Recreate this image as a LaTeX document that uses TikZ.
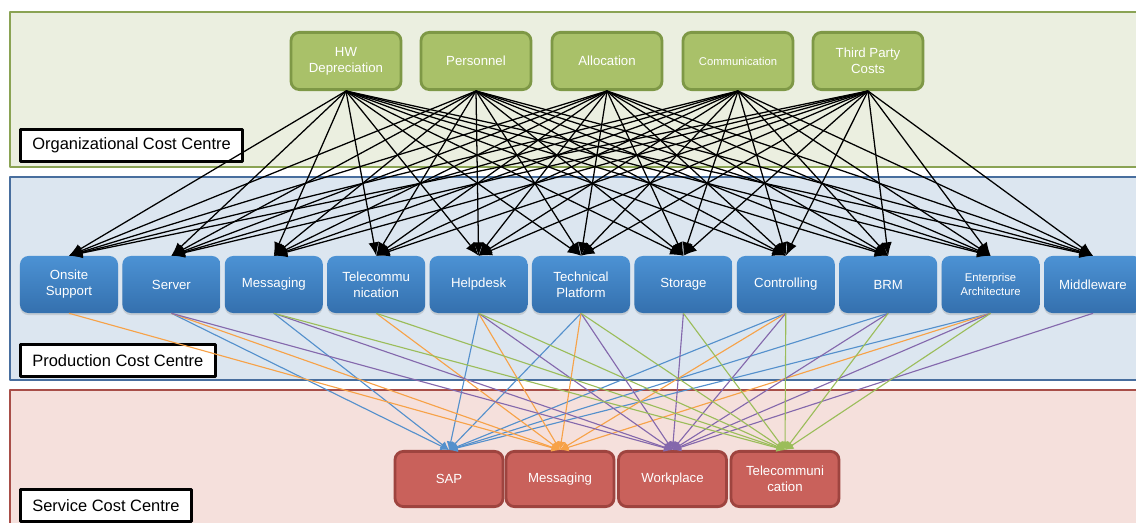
\documentclass[tikz,border=0pt]{standalone}
\usepackage{fontspec}
\setmainfont{Liberation Sans}
\usetikzlibrary{arrows.meta,shadows}
\definecolor{orgpanel}{RGB}{235,239,224}
\definecolor{orgline}{RGB}{138,163,84}
\definecolor{orgnode}{RGB}{169,193,105}
\definecolor{orgnodeline}{RGB}{126,152,70}
\definecolor{prodpanel}{RGB}{220,230,240}
\definecolor{prodline}{RGB}{72,110,158}
\definecolor{prodtop}{RGB}{76,146,212}
\definecolor{prodbot}{RGB}{52,112,174}
\definecolor{servpanel}{RGB}{245,224,220}
\definecolor{servline}{RGB}{168,78,72}
\definecolor{servnode}{RGB}{201,97,91}
\definecolor{servnodeline}{RGB}{158,68,63}
\definecolor{sapblue}{RGB}{84,144,204}
\definecolor{msgorange}{RGB}{247,162,72}
\definecolor{workpurple}{RGB}{132,104,172}
\definecolor{telgreen}{RGB}{155,189,90}
\begin{document}
\begin{tikzpicture}[x=0.025cm, y=-0.025cm, line join=round,
  panel/.style={line width=2pt},
  tag/.style={draw=black, fill=white, line width=2pt, inner xsep=8.5pt,
    minimum height=0.8cm, anchor=north west, font=\fontsize{11.7}{14}\selectfont},
  plain/.style={},
  smalltext/.style={font=\fontsize{8}{9.6}\selectfont},
  orgbox/.style={draw=orgnodeline, fill=orgnode, line width=2pt, rounded corners=6pt,
    minimum width=2.75cm, minimum height=1.43cm, align=center, text=white,
    font=\fontsize{9.4}{11.4}\selectfont},
  prodbox/.style={top color=prodtop, bottom color=prodbot, rounded corners=6pt,
    minimum width=2.45cm, minimum height=1.425cm, align=center, text=white,
    font=\fontsize{9.4}{11.4}\selectfont,
    drop shadow={opacity=0.25, shadow xshift=0pt, shadow yshift=-1.5pt}},
  servbox/.style={draw=servnodeline, fill=servnode, line width=2pt, rounded corners=6pt,
    minimum width=2.7cm, minimum height=1.38cm, align=center, text=white,
    font=\fontsize{9.4}{11.4}\selectfont},
  cost/.style={draw=black, line width=0.9pt, -{Latex[length=9.5pt,width=7.5pt]}},
  feed/.style={draw=#1, line width=0.8pt, -{Latex[length=6pt,width=6pt]}}]
  \useasboundingbox (0,0) rectangle (1136,523);
  \clip (0,0) rectangle (1136,523);
  % the three cost centres
  \draw[panel, draw=orgline, fill=orgpanel] (10,12) rectangle (1150,167);
  \draw[panel, draw=prodline, fill=prodpanel] (10,177) rectangle (1150,380);
  \draw[panel, draw=servline, fill=servpanel] (10,390) rectangle (1150,560);
  \node[tag] (orgtag) at (19,128) {Organizational Cost Centre};
  \node[tag] (prodtag) at (19,343) {Production Cost Centre};
  \node[tag] (servtag) at (19,488) {Service Cost Centre};
  % organizational costs
  \foreach \n/\x/\o/\t in {hw/346/plain/{HW\\Depreciation}, pers/476/plain/Personnel,
      alloc/607/plain/Allocation, comm/738/smalltext/Communication,
      third/868/plain/{Third Party\\Costs}}
    \node[orgbox, \o] (\n) at (\x,61) {\t};
  % production services
  \foreach \n/\x/\o/\t in {onsite/69/plain/{Onsite\\Support}, server/171.4/plain/Server,
      msg/273.8/plain/Messaging, telco/376.2/plain/{Telecommu\\nication},
      help/478.6/plain/Helpdesk, tech/581/plain/{Technical\\Platform},
      stor/683.4/plain/Storage, ctrl/785.8/plain/Controlling, brm/888.2/plain/BRM,
      ea/990.6/smalltext/{Enterprise\\Architecture}, mw/1093/plain/Middleware}
    \node[prodbox, \o] (\n) at (\x,284.5) {\t};
  % service products
  \foreach \n/\x/\t in {sap/449/SAP, smsg/560/Messaging, work/672.5/Workplace,
      stelco/785/{Telecommuni\\cation}}
    \node[servbox] (\n) at (\x,479) {\t};
  % every cost goes to every production service
  \foreach \s in {hw,pers,alloc,comm,third}
    \foreach \d in {onsite,server,msg,telco,help,tech,stor,ctrl,brm,ea,mw}
      \draw[cost] (\s.south) -- (\d.north);
  % production services feed the products
  \foreach \s in {server,msg,help,tech,ctrl,brm,ea}
    \draw[feed=sapblue] (\s.south) -- (sap.north);
  \foreach \s in {onsite,server,telco,help,tech,ctrl,ea}
    \draw[feed=msgorange] (\s.south) -- (smsg.north);
  \foreach \s in {server,msg,help,tech,stor,ctrl,brm,ea,mw}
    \draw[feed=workpurple] (\s.south) -- (work.north);
  \foreach \s in {msg,telco,help,tech,stor,ctrl,brm,ea}
    \draw[feed=telgreen] (\s.south) -- (stelco.north);
\end{tikzpicture}
\end{document}
